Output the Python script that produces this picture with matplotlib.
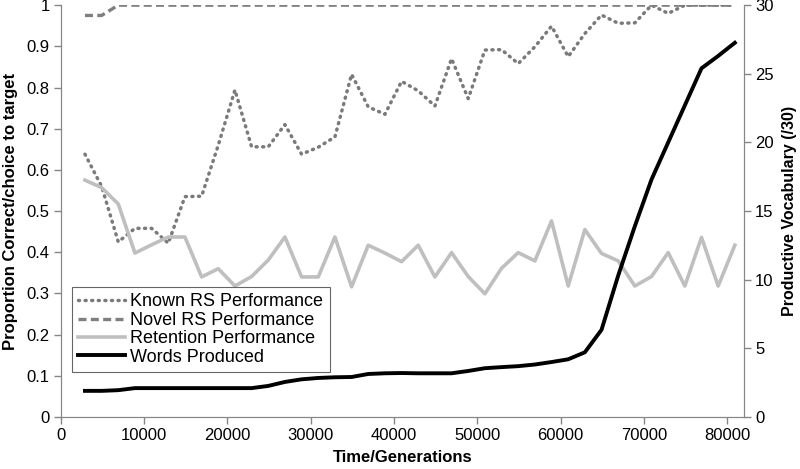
import matplotlib
matplotlib.use("Agg")
import matplotlib.pyplot as plt
import numpy as np

plt.rcParams["font.family"] = ["Liberation Sans", "DejaVu Sans"]

# ── Data ──────────────────────────────────────────────────────────────────────

generations = [2900, 4900, 6900, 8900, 10900, 12900, 14900, 16900, 18900, 20900,
               22900, 24900, 26900, 28900, 30900, 32900, 34900, 36900, 38900, 40900,
               42900, 44900, 46900, 48900, 50900, 52900, 54900, 56900, 58900, 60900,
               62900, 64900, 66900, 68900, 70900, 72900, 74900, 76900, 78900, 80900]

known_rs = [0.638, 0.56, 0.425, 0.458, 0.458, 0.422, 0.535, 0.536, 0.66, 0.794,
            0.656, 0.656, 0.71, 0.638, 0.655, 0.68, 0.832, 0.753, 0.735, 0.815,
            0.792, 0.755, 0.87, 0.773, 0.891, 0.892, 0.858, 0.899, 0.949, 0.875,
            0.931, 0.976, 0.956, 0.957, 1.0, 0.98, 1.0, 1.0, 1.0, 1.0]

novel_rs = [0.975, 0.975] + [1.0] * 38

retention = [0.575, 0.557, 0.517, 0.398, 0.418, 0.437, 0.437, 0.34, 0.36, 0.318,
             0.341, 0.381, 0.437, 0.34, 0.34, 0.437, 0.316, 0.417, 0.398, 0.377,
             0.417, 0.34, 0.399, 0.341, 0.299, 0.361, 0.399, 0.379, 0.476, 0.318,
             0.455, 0.397, 0.379, 0.318, 0.341, 0.399, 0.318, 0.436, 0.318, 0.417]

words_produced = [1.9, 1.9, 1.95, 2.1, 2.1, 2.1, 2.1, 2.1, 2.1, 2.1,
                  2.1, 2.26, 2.55, 2.74, 2.84, 2.89, 2.91, 3.13, 3.18, 3.2,
                  3.18, 3.18, 3.18, 3.35, 3.55, 3.63, 3.7, 3.82, 4.0, 4.2,
                  4.71, 6.35, 10.3, 13.9, 17.3, 20.0, 22.7, 25.4, 26.3, 27.26]

x_ticks = list(range(0, 80001, 10000))
left_ticks = [0, 0.1, 0.2, 0.3, 0.4, 0.5, 0.6, 0.7, 0.8, 0.9, 1]
left_tick_labels = ["0", "0.1", "0.2", "0.3", "0.4", "0.5", "0.6", "0.7", "0.8", "0.9", "1"]
right_ticks = [0, 5, 10, 15, 20, 25, 30]

# ── Figure ────────────────────────────────────────────────────────────────────

spine_grey = "#868686"

fig = plt.figure(figsize=(8, 4.69), dpi=100)
ax = fig.add_axes([0.076, 0.111, 0.854, 0.878])
ax2 = ax.twinx()

l1, = ax.plot(generations, known_rs, color="#7a7a7a", lw=2.5,
              linestyle=(0, (0.3, 1.6)), dash_capstyle="round",
              label="Known RS Performance")
l2, = ax.plot(generations, novel_rs, color="#7f7f7f", lw=2.4,
              linestyle=(0, (2.4, 1.3)), label="Novel RS Performance")
l3, = ax.plot(generations, retention, color="#bfbfbf", lw=2.6,
              label="Retention Performance")
l4, = ax2.plot(generations, words_produced, color="black", lw=2.8,
               label="Words Produced")

ax.set_xlim(0, 82000)
ax.set_ylim(0, 1)
ax2.set_ylim(0, 30)

ax.set_xticks(x_ticks)
ax.set_xticklabels([str(t) for t in x_ticks])
ax.set_yticks(left_ticks)
ax.set_yticklabels(left_tick_labels)
ax2.set_yticks(right_ticks)

for a in (ax, ax2):
    a.spines["top"].set_visible(False)
    for s in ("left", "right", "bottom"):
        a.spines[s].set_color(spine_grey)
    a.tick_params(direction="out", length=5, width=1, color=spine_grey,
                  labelsize=12, pad=3)

ax.set_xlabel("Time/Generations", fontsize=12, fontweight="bold", labelpad=5)
ax.set_ylabel("Proportion Correct/choice to target", fontsize=12,
              fontweight="bold", labelpad=6)
ax2.set_ylabel("Productive Vocabulary (/30)", fontsize=11.5, fontweight="bold",
               labelpad=6)

leg = ax2.legend(handles=[l1, l2, l3, l4], loc="lower left",
                 bbox_to_anchor=(0.016, 0.109), fontsize=13, frameon=True,
                 fancybox=False, borderpad=0.35, labelspacing=0.08,
                 handlelength=2.6, handletextpad=0.3, borderaxespad=0)
leg.get_frame().set_edgecolor("#404040")
leg.get_frame().set_linewidth(0.8)

fig.savefig("out.png", dpi=100)
